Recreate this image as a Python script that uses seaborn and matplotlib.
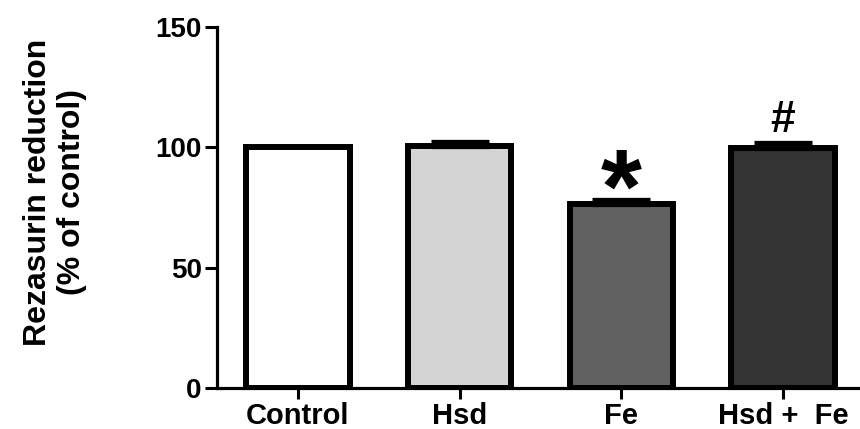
import matplotlib
matplotlib.use("Agg")
import matplotlib.pyplot as plt
import seaborn as sns
import numpy as np
import pandas as pd

categories = ["Control", "Hsd", "Fe", "Hsd +  Fe"]
means = [100.0, 100.5, 76.5, 99.6]
sems = [0.0, 1.7, 1.5, 2.0]
bar_colors = ["#ffffff", "#d4d4d4", "#606060", "#333333"]
annotations = ["", "", "*", "#"]
yticks = [0, 50, 100, 150]

sns.set_theme(style="ticks")
plt.rcParams["font.family"] = ["Liberation Sans", "DejaVu Sans"]
plt.rcParams["font.weight"] = "bold"
plt.rcParams["text.color"] = "black"
plt.rcParams["axes.labelcolor"] = "black"
plt.rcParams["xtick.color"] = "black"
plt.rcParams["ytick.color"] = "black"

df = pd.DataFrame({"group": categories, "value": means})

fig = plt.figure(figsize=(8.6, 4.29), dpi=100)
ax = fig.add_axes([217 / 860, 1 - 388 / 429, 1 - 217 / 860, (388 - 27) / 429])

sns.barplot(data=df, x="group", y="value", hue="group", palette=bar_colors,
            edgecolor="black", linewidth=4.3, width=0.64, legend=False,
            errorbar=None, ax=ax, zorder=2)

xs = np.arange(len(categories))
lower = np.zeros(len(sems))
err_mask = np.array(sems) > 0
ax.errorbar(xs[err_mask], np.array(means)[err_mask],
            yerr=[lower[err_mask], np.array(sems)[err_mask]],
            fmt="none", ecolor="black", elinewidth=3, capsize=21, capthick=3.8,
            zorder=3)

for x, m, s, a in zip(xs, means, sems, annotations):
    if a == "*":
        ax.text(x, m + s - 18.3, a, ha="center", va="bottom", fontsize=76,
                fontweight="bold", color="black")
    elif a == "#":
        ax.text(x, m + s + 1.0, a, ha="center", va="bottom", fontsize=32,
                fontweight="bold", color="black")

ax.set_ylim(0, 150)
ax.set_xlim(-0.5, 3.476)
ax.set_yticks(yticks)
ax.set_yticklabels([str(t) for t in yticks], fontsize=20, fontweight="bold")
ax.set_xticks(xs)
ax.set_xticklabels(categories, fontsize=21, fontweight="bold")
ax.set_xlabel("")
ax.set_ylabel("")
for side in ["top", "right"]:
    ax.spines[side].set_visible(False)
for side in ["left", "bottom"]:
    ax.spines[side].set_linewidth(2.3)
    ax.spines[side].set_color("black")
ax.tick_params(axis="y", length=9, width=2.2, pad=2, colors="black")
ax.tick_params(axis="x", length=8, width=2.2, pad=2, colors="black")

fig.text(55 / 860, 1 - 192 / 429, "Rezasurin reduction\n(% of control)",
         rotation=90, ha="center", va="center", multialignment="center",
         fontsize=23, fontweight="bold", linespacing=1.15, color="black")

fig.savefig("out.png", dpi=100)
